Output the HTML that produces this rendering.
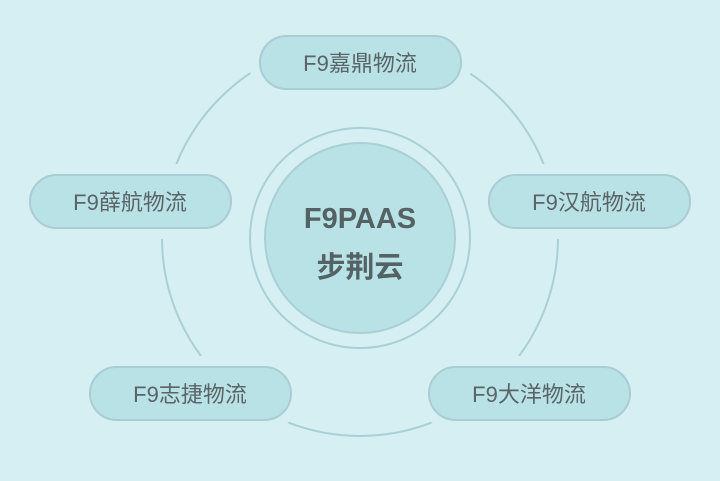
<!DOCTYPE html>
<html><head><meta charset="utf-8"><style>
html,body{margin:0;padding:0}
body{width:720px;height:476px;background:#d6eff3;overflow:hidden}
text{font-family:"Liberation Sans","Noto Sans CJK SC",sans-serif}
</style></head><body>
<svg width="720" height="476" viewBox="0 0 720 476" xmlns="http://www.w3.org/2000/svg">
<rect x="0" y="0" width="720" height="476" fill="#d6eff3"/>
<circle cx="360" cy="238" r="198" fill="none" stroke="#a9d0d5" stroke-width="2"/>
<circle cx="360" cy="238" r="110" fill="#d6eff3" stroke="#a9d0d5" stroke-width="2"/>
<circle cx="360" cy="238" r="95" fill="#b9e2e7" stroke="#a9d0d5" stroke-width="2"/>
<text x="360" y="228" text-anchor="middle" font-size="29" font-weight="bold" fill="#546264">F9PAAS</text>
<text x="360" y="277" text-anchor="middle" font-size="29" font-weight="bold" fill="#546264">步荆云</text>
<g stroke="#d6eff3" stroke-width="22" fill="#d6eff3">
<rect x="260" y="36" width="201" height="53" rx="26.5"/>
<rect x="489" y="175" width="201" height="53" rx="26.5"/>
<rect x="30" y="175" width="201" height="53" rx="26.5"/>
<rect x="90" y="367" width="201" height="53" rx="26.5"/>
<rect x="429" y="367" width="201" height="53" rx="26.5"/>
</g>
<g stroke="#a9cdd2" stroke-width="2" fill="#b9e2e7">
<rect x="260" y="36" width="201" height="53" rx="26.5"/>
<rect x="489" y="175" width="201" height="53" rx="26.5"/>
<rect x="30" y="175" width="201" height="53" rx="26.5"/>
<rect x="90" y="367" width="201" height="53" rx="26.5"/>
<rect x="429" y="367" width="201" height="53" rx="26.5"/>
</g>
<g font-size="22" fill="#5a6466" text-anchor="middle">
<text x="360" y="71">F9嘉鼎物流</text>
<text x="589" y="210">F9汉航物流</text>
<text x="130" y="210">F9薛航物流</text>
<text x="190" y="402">F9志捷物流</text>
<text x="529" y="402">F9大洋物流</text>
</g>
</svg>
</body></html>
